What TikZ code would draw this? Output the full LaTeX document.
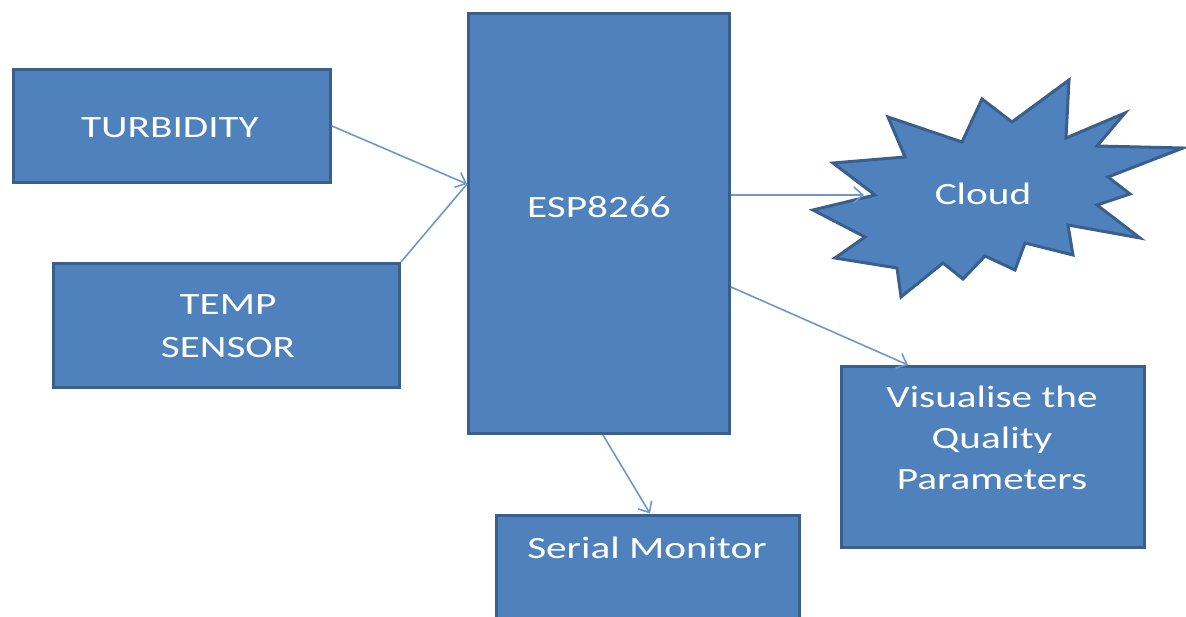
\documentclass[tikz,border=0pt]{standalone}
\usepackage{fontspec}
\newfontfamily\calib{Carlito}[FakeStretch=1.33]
\usetikzlibrary{arrows.meta}
\definecolor{boxfill}{HTML}{4F81BD}
\definecolor{boxline}{HTML}{3A5F8C}
\definecolor{arrowc}{HTML}{6E97CC}
\tikzset{
  blockbox/.style={draw=boxline, line width=3pt, fill=boxfill, rectangle, inner sep=0pt},
  lbl/.style={text=white, font=\calib\fontsize{31}{43}\selectfont, align=center, inner sep=0pt},
  conn/.style={draw=arrowc, line width=1.6pt, -{Straight Barb[length=9pt,width=16pt,line width=1.6pt]}},
  plainconn/.style={draw=arrowc, line width=1.6pt}
}
\begin{document}
\begin{tikzpicture}[x=1pt,y=-1pt]
\useasboundingbox (0,0) rectangle (1186,617);
\clip (0,0) rectangle (1186,617);
% boxes
\node[blockbox, minimum width=317pt, minimum height=113pt] (turb) at (172,126) {};
\node[blockbox, minimum width=346pt, minimum height=124pt] (temp) at (226.5,325.5) {};
\node[blockbox, minimum width=261pt, minimum height=420pt] (esp) at (599,223.5) {};
\node[blockbox, minimum width=303pt, minimum height=181pt] (vis) at (993,457) {};
\node[blockbox, minimum width=303pt, minimum height=140pt] (serial) at (648,585) {};
% cloud starburst
\draw[boxline, line width=3pt, fill=boxfill, line join=miter, miter limit=20]
  (813,210) -- (875,195) -- (833,163) -- (905,157) -- (888,117) -- (962,142)
  -- (982,99) -- (1012,122) -- (1069,80) -- (1066,138) -- (1125,113) -- (1097,146)
  -- (1183,148) -- (1108,177) -- (1130,194) -- (1097,205) -- (1140,238) -- (1068,225)
  -- (1073,255) -- (1025,243) -- (1015,270) -- (985,256) -- (963,279) -- (943,263)
  -- (901,297) -- (897,268) -- (835,258) -- (865,237) -- cycle;
\coordinate (cloudin) at (864,195);
% labels
\node[lbl] (turbtext) at (170,128) {TURBIDITY};
\node[lbl] (temptext) at (228,326) {TEMP\\SENSOR};
\node[lbl, font=\calib\fontsize{31}{41}\selectfont] (vistext) at (992,438) {Visualise the\\Quality\\Parameters};
\node[lbl] (esptext) at (599,207) {ESP8266};
\node[lbl] (serialtext) at (647,548) {Serial Monitor};
\node[lbl] (cloudtext) at (983,194) {Cloud};
% connectors
\draw[conn] (turb.east) -- ([yshift=39.5pt]esp.west);
\draw[plainconn] (temp.north east) -- ([yshift=39.5pt]esp.west);
\draw[conn] ([yshift=28.5pt]esp.east) -- (cloudin);
\draw[conn] ([yshift=-63.5pt]esp.east) -- ([xshift=-85pt]vis.north);
\draw[conn] ([xshift=4pt]esp.south) -- ([xshift=2pt]serial.north);
\end{tikzpicture}
\end{document}
